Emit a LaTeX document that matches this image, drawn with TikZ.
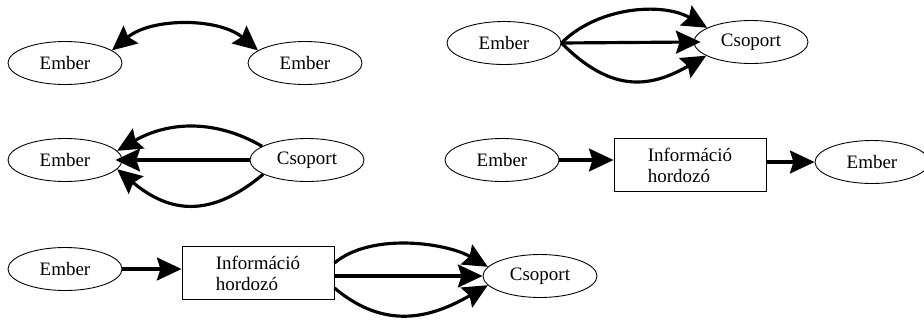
\documentclass[tikz,border=0pt]{standalone}
\usepackage{fontspec}
\setmainfont{Liberation Serif}
\usetikzlibrary{arrows.meta,positioning,calc,shapes.geometric}

\begin{document}
\begin{tikzpicture}[
  >={Stealth[length=14pt,width=13pt,inset=2pt]},
  actor/.style={draw,ellipse,line width=0.5pt,minimum width=2.28cm,minimum height=0.86cm,inner sep=0pt},
  carrier/.style={draw,rectangle,line width=0.5pt,minimum width=3.04cm,minimum height=1.07cm,align=left},
  flow/.style={line width=1.8pt,->},
  every node/.style={font=\fontsize{10.8}{12}\selectfont}
]
\useasboundingbox (0,0) rectangle (18.48,-6.4);
\node[actor] (a) at (1.30,-1.26) {Ember};
\node[actor] (b) at (6.10,-1.26) {Ember};
\node[actor] (c) at (10.08,-0.86) {Ember};
\node[actor] (d) at (15.02,-0.84) {Csoport};
\node[actor] (e) at (1.30,-3.20) {Ember};
\node[actor] (f) at (6.14,-3.20) {Csoport};
\node[actor] (g) at (10.04,-3.20) {Ember};
\node[carrier] (h) at (13.80,-3.30) {Információ\\hordozó};
\node[actor] (i) at (17.44,-3.24) {Ember};
\node[actor] (j) at (1.30,-5.38) {Ember};
\node[carrier] (k) at (5.16,-5.46) {Információ\\hordozó};
\node[actor] (l) at (10.80,-5.52) {Csoport};

\draw[flow,<->] (a.15) to[out=40,in=140,looseness=0.9] (b.165);

\draw[flow] (c.east) to[out=45,in=150,looseness=0.9] (d.162);
\draw[flow,shorten >=-4pt] (c.east) -- (d.west);
\draw[flow] (c.east) to[out=-45,in=-150,looseness=1.2] (d.-163);

\draw[flow] (f.163) to[out=150,in=30,looseness=1] (e.10);
\draw[flow,shorten >=-4pt] (f.west) -- (e.east);
\draw[flow] (f.-162) to[out=-140,in=-40,looseness=1.2] (e.-10);

\draw[flow] (g.east) -- (g.east -| h.west);
\draw[flow] (h.east |- i.west) -- (i.west);

\draw[flow] (j.east) -- (j.east -| k.west);
\draw[flow] ([yshift=0.2cm]k.east) to[out=40,in=150,looseness=0.8] (l.170);
\draw[flow] (k.east |- l.west) -- (l.west);
\draw[flow] ([yshift=-0.3cm]k.east) to[out=-40,in=-150,looseness=1.1] (l.-170);
\end{tikzpicture}
\end{document}
